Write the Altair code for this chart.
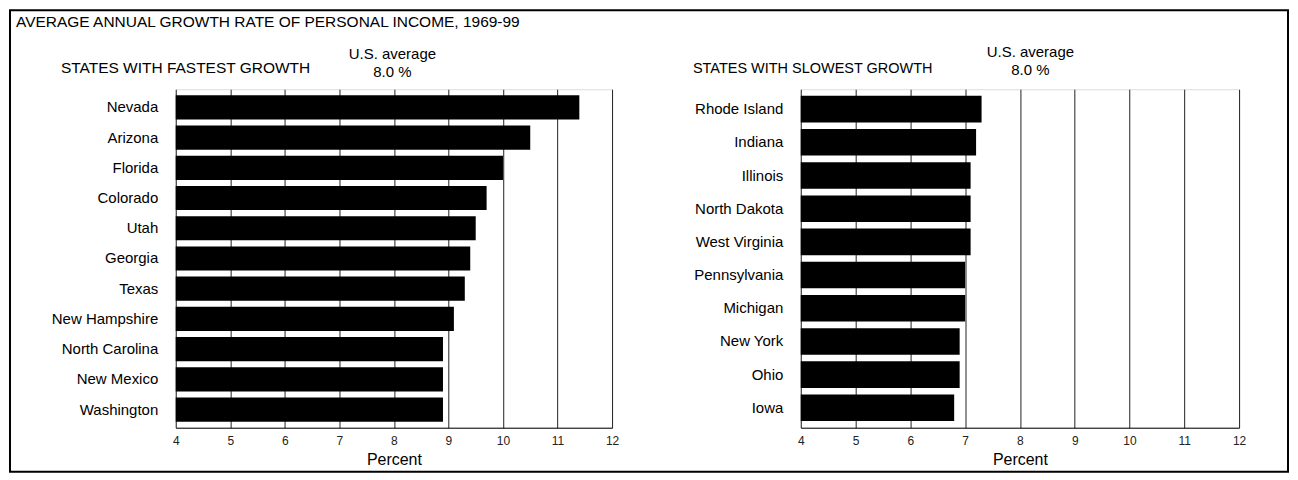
import altair as alt
import pandas as pd

FONT = "Liberation Sans, Arial, sans-serif"

fast_states = ["Nevada", "Arizona", "Florida", "Colorado", "Utah", "Georgia", "Texas",
               "New Hampshire", "North Carolina", "New Mexico", "Washington"]
fast_values = [11.4, 10.5, 10.0, 9.7, 9.5, 9.4, 9.3, 9.1, 8.9, 8.9, 8.9]

slow_states = ["Rhode Island", "Indiana", "Illinois", "North Dakota", "West Virginia",
               "Pennsylvania", "Michigan", "New York", "Ohio", "Iowa"]
slow_values = [7.3, 7.2, 7.1, 7.1, 7.1, 7.0, 7.0, 6.9, 6.9, 6.8]

x_ticks = [4, 5, 6, 7, 8, 9, 10, 11, 12]

title_text = "AVERAGE ANNUAL GROWTH RATE OF PERSONAL INCOME, 1969-99"
fast_header = "STATES WITH FASTEST GROWTH"
slow_header = "STATES WITH SLOWEST GROWTH"
avg_line1 = "U.S. average"
avg_line2 = "8.0 %"

H = 339


def panel(states, values, width, header, header_dx, header_size, avg_cx, avg_dy, extra_layers=None):
    df = pd.DataFrame({"state": states, "value": values})
    bars = alt.Chart(df).mark_bar(color="black").encode(
        x=alt.X("value:Q", scale=alt.Scale(domain=[4, 12], nice=False, zero=False),
                axis=alt.Axis(values=x_ticks, title="Percent", grid=True, gridColor="#222",
                              gridWidth=1, gridOpacity=1, ticks=False, labelPadding=8,
                              labelFontSize=12, labelColor="#222", labelFont=FONT,
                              titleFont=FONT, titleFontSize=16, titleFontWeight="normal",
                              titleColor="black", titlePadding=5, domainColor="black",
                              labelFlush=False)),
        x2=alt.datum(4),
        y=alt.Y("state:N", sort=states, scale=alt.Scale(paddingInner=0.2, paddingOuter=0.2),
                axis=alt.Axis(title=None, ticks=False, domain=False, labelPadding=18,
                              labelFontSize=15, labelColor="black", labelFont=FONT)),
    )
    hdr = pd.DataFrame({"t": [0]})
    head = alt.Chart(hdr).mark_text(
        text=header, align="left", baseline="alphabetic", font=FONT,
        fontSize=header_size, color="black"
    ).encode(x=alt.value(header_dx), y=alt.value(-16))
    avg1 = alt.Chart(hdr).mark_text(
        text=avg_line1, align="center", baseline="alphabetic", font=FONT, fontSize=15, color="black"
    ).encode(x=alt.value(avg_cx), y=alt.value(-30 + avg_dy))
    avg2 = alt.Chart(hdr).mark_text(
        text=avg_line2, align="center", baseline="alphabetic", font=FONT, fontSize=15, color="black"
    ).encode(x=alt.value(avg_cx), y=alt.value(-12 + avg_dy))
    layers = [bars, head, avg1, avg2]
    if extra_layers:
        layers = extra_layers + layers
    return alt.layer(*layers).properties(width=width, height=H)


one = pd.DataFrame({"a": [0]})
frame = alt.Chart(one).mark_rect(fill=None, stroke="black", strokeWidth=2).encode(
    x=alt.value(-166), x2=alt.value(1114), y=alt.value(-79), y2=alt.value(383)
)
main_title = alt.Chart(one).mark_text(
    text=title_text, align="left", baseline="alphabetic", font=FONT, fontSize=15.5, color="black"
).encode(x=alt.value(-160), y=alt.value(-62))

left = panel(fast_states, fast_values, 437, fast_header, -115, 15.5, 217, 0,
             extra_layers=[frame, main_title])
right = panel(slow_states, slow_values, 439, slow_header, -108, 14.5, 230, -2)

chart = alt.hconcat(left, right, spacing=189, bounds="flush").properties(
    padding={"left": 0, "top": 0, "right": 0, "bottom": 0}
).configure_view(stroke="black", strokeWidth=1).configure(background="white")

chart.save("out.html", embed_options={"renderer": "svg", "actions": False})
